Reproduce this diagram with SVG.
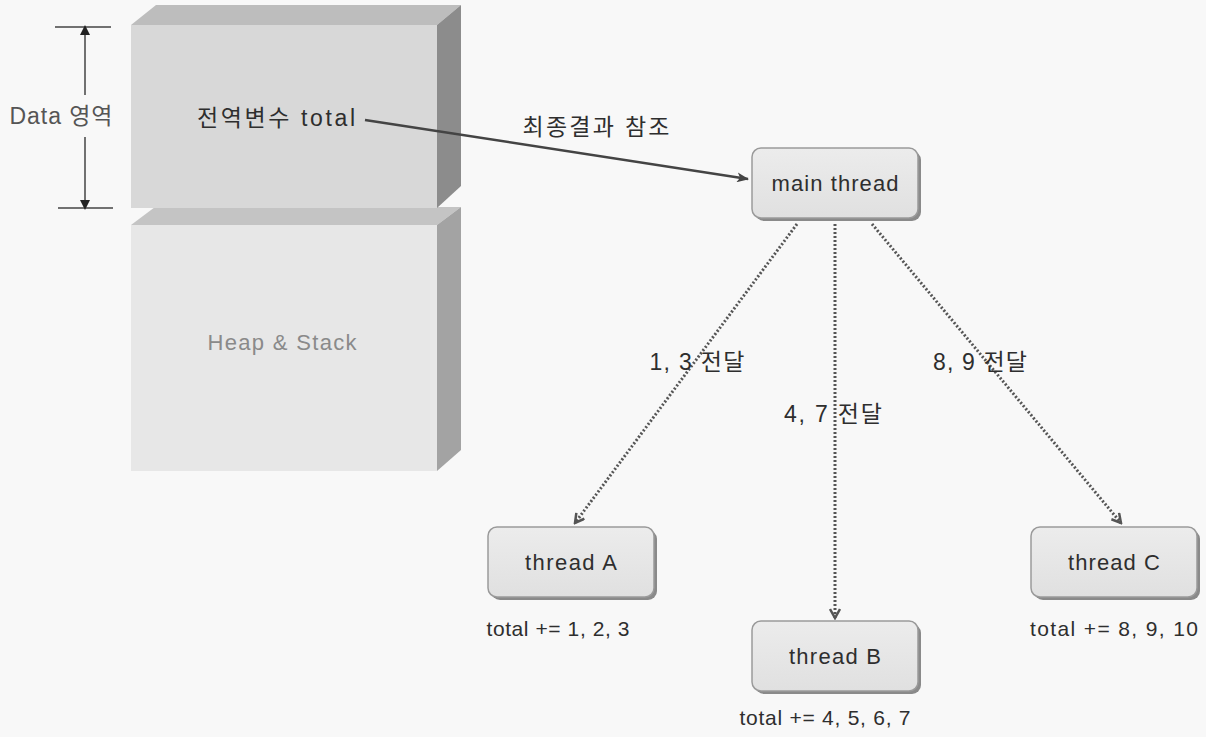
<svg xmlns="http://www.w3.org/2000/svg" width="1206" height="737" viewBox="0 0 1206 737">
<defs>
<style>
text{font-family:"Liberation Sans","Noto Sans CJK KR",sans-serif;fill:#2e2e2e;text-anchor:middle;}
.lbl{font-size:22px;}
.kr{font-size:23px;}
.node{font-size:22px;}
.sm{font-size:21px;}
.box{fill:url(#g);stroke:#9a9a9a;stroke-width:1.5;}
.sh{fill:#8a8a8a;}
.dot{fill:none;stroke:#555;stroke-width:3;stroke-dasharray:2 2;}
</style>
<linearGradient id="g" x1="0" y1="0" x2="0" y2="1">
<stop offset="0" stop-color="#ececec"/>
<stop offset="1" stop-color="#e0e0e0"/>
</linearGradient>
<marker id="ah" viewBox="0 0 12 10" refX="11" refY="5" markerWidth="12" markerHeight="10" markerUnits="userSpaceOnUse" orient="auto">
<path d="M0,0 L12,5 L0,10 L3,5 Z" fill="#444"/>
</marker>
<marker id="oh" viewBox="0 0 12 12" refX="10" refY="6" markerWidth="12" markerHeight="12" markerUnits="userSpaceOnUse" orient="auto">
<path d="M1,1 L10,6 L1,11" fill="none" stroke="#555" stroke-width="2.5"/>
</marker>
<marker id="dh" viewBox="0 0 10 10" refX="5" refY="5" markerWidth="10" markerHeight="10" markerUnits="userSpaceOnUse" orient="auto-start-reverse">
<path d="M0,0 L10,5 L0,10 Z" fill="#222"/>
</marker>
</defs>
<rect width="1206" height="737" fill="#f8f8f8"/>

<g id="heap">
<polygon points="131,225 155,207 461,207 437,225" fill="#c4c4c4"/>
<polygon points="437,225 461,207 461,450 437,471" fill="#a3a3a3"/>
<rect x="131" y="225" width="306" height="246" fill="#e7e7e7"/>
<text x="282" y="350" class="lbl" textLength="149" lengthAdjust="spacing" style="fill:#8a8a8a">Heap &amp; Stack</text>
</g>

<g id="data">
<polygon points="131,25 156,5 461,5 437,25" fill="#bdbdbd"/>
<polygon points="437,25 461,5 461,186 437,208" fill="#8c8c8c"/>
<rect x="131" y="25" width="306" height="183" fill="#d8d8d8"/>
<text x="276" y="126" class="kr" textLength="158" lengthAdjust="spacing">전역변수 total</text>
</g>

<g id="dimension">
<line x1="55" y1="27" x2="111" y2="27" stroke="#444" stroke-width="1.5"/>
<line x1="58" y1="208" x2="113" y2="208" stroke="#444" stroke-width="1.5"/>
<line x1="85" y1="30" x2="85" y2="95" stroke="#444" stroke-width="1.5" marker-start="url(#dh)"/>
<line x1="85" y1="137" x2="85" y2="205" stroke="#444" stroke-width="1.5" marker-end="url(#dh)"/>
<text x="61" y="124" class="kr" textLength="103" lengthAdjust="spacing" style="fill:#555">Data 영역</text>
</g>

<g id="connectors">
<line x1="365" y1="120" x2="748" y2="179" stroke="#444" stroke-width="2.5" marker-end="url(#ah)"/>
<line x1="797" y1="224" x2="575" y2="523" class="dot" marker-end="url(#oh)"/>
<line x1="835" y1="224" x2="835" y2="618" class="dot" marker-end="url(#oh)"/>
<line x1="872" y1="224" x2="1121" y2="523" class="dot" marker-end="url(#oh)"/>
<text x="596" y="135" class="kr" textLength="147" lengthAdjust="spacing">최종결과 참조</text>
<text x="697" y="370" class="kr" textLength="95" lengthAdjust="spacing">1, 3 전달</text>
<text x="833" y="422" class="kr" textLength="98" lengthAdjust="spacing">4, 7 전달</text>
<text x="980" y="370" class="kr" textLength="94" lengthAdjust="spacing">8, 9 전달</text>
</g>

<g id="main-thread">
<rect x="755" y="151" width="166" height="70" rx="9" class="sh"/>
<rect x="752" y="148" width="166" height="70" rx="9" class="box"/>
<text x="835" y="191" class="node" textLength="127" lengthAdjust="spacing">main thread</text>
</g>

<g id="thread-a">
<rect x="491" y="530" width="166" height="70" rx="9" class="sh"/>
<rect x="488" y="527" width="166" height="70" rx="9" class="box"/>
<text x="571" y="570" class="node" textLength="92" lengthAdjust="spacing">thread A</text>
<text x="558" y="636" class="sm" textLength="143" lengthAdjust="spacing">total += 1, 2, 3</text>
</g>

<g id="thread-b">
<rect x="755" y="624" width="166" height="70" rx="9" class="sh"/>
<rect x="752" y="621" width="166" height="70" rx="9" class="box"/>
<text x="835" y="664" class="node" textLength="92" lengthAdjust="spacing">thread B</text>
<text x="825" y="725" class="sm" textLength="171" lengthAdjust="spacing">total += 4, 5, 6, 7</text>
</g>

<g id="thread-c">
<rect x="1034" y="530" width="166" height="70" rx="9" class="sh"/>
<rect x="1031" y="527" width="166" height="70" rx="9" class="box"/>
<text x="1114" y="570" class="node" textLength="92" lengthAdjust="spacing">thread C</text>
<text x="1114" y="636" class="sm" textLength="168" lengthAdjust="spacing">total += 8, 9, 10</text>
</g>
</svg>
